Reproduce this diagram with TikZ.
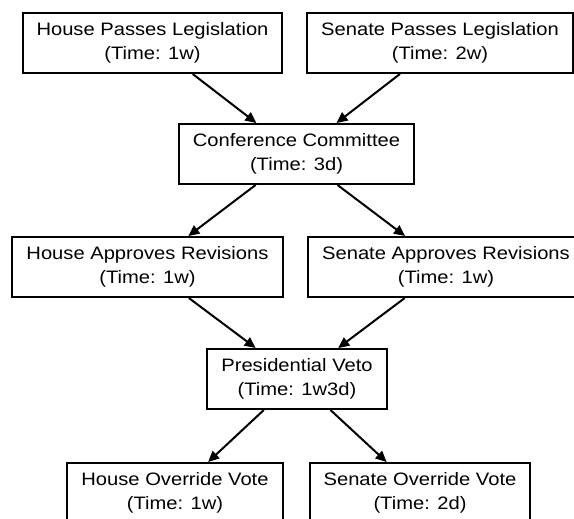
\documentclass[tikz,border=0pt]{standalone}
\usepackage{fontspec}
\setmainfont[FakeStretch=1.12]{Liberation Sans}
\usetikzlibrary{arrows.meta}
\begin{document}
\begin{tikzpicture}[x=1pt,y=-1pt]

    \tikzset{
      stage/.style={
        draw,
        line width=2pt,
        align=center,
        inner xsep=14pt,
        minimum height=60pt,
        font=\fontsize{18}{24}\selectfont,
      },
      flow/.style={
        line width=2pt,
        -{Triangle[length=11pt,width=10pt]},
      },
    }
    \useasboundingbox (0,0) rectangle (574,519);
    \clip (0,0) rectangle (574,519);
    % first passage in both chambers
	\node[stage] (housepass) at (152.5,43) {House Passes Legislation\\(Time: 1w)};
	\node[stage] (senatepass) at (440,43) {Senate Passes Legislation\\(Time: 2w)};
	\node[stage] (conference) at (296.5,154) {Conference Committee\\(Time: 3d)};
	\node[stage] (houseapprove) at (147.5,267) {House Approves Revisions\\(Time: 1w)};
	\node[stage] (senateapprove) at (446,267) {Senate Approves Revisions\\(Time: 1w)};
	\node[stage] (veto) at (297,379) {Presidential Veto\\(Time: 1w3d)};
	\node[stage] (houseoverride) at (175,493) {House Override Vote\\(Time: 1w)};
	\node[stage] (senateoverride) at (420,493) {Senate Override Vote\\(Time: 2d)};
    % edges
	\draw[flow] (housepass) -- (conference);
	\draw[flow] (senatepass) -- (conference);
	\draw[flow] (conference) -- (houseapprove);
	\draw[flow] (conference) -- (senateapprove);
	\draw[flow] (houseapprove) -- (veto);
	\draw[flow] (senateapprove) -- (veto);
	\draw[flow] (veto) -- (houseoverride);
	\draw[flow] (veto) -- (senateoverride);

\end{tikzpicture}
\end{document}
